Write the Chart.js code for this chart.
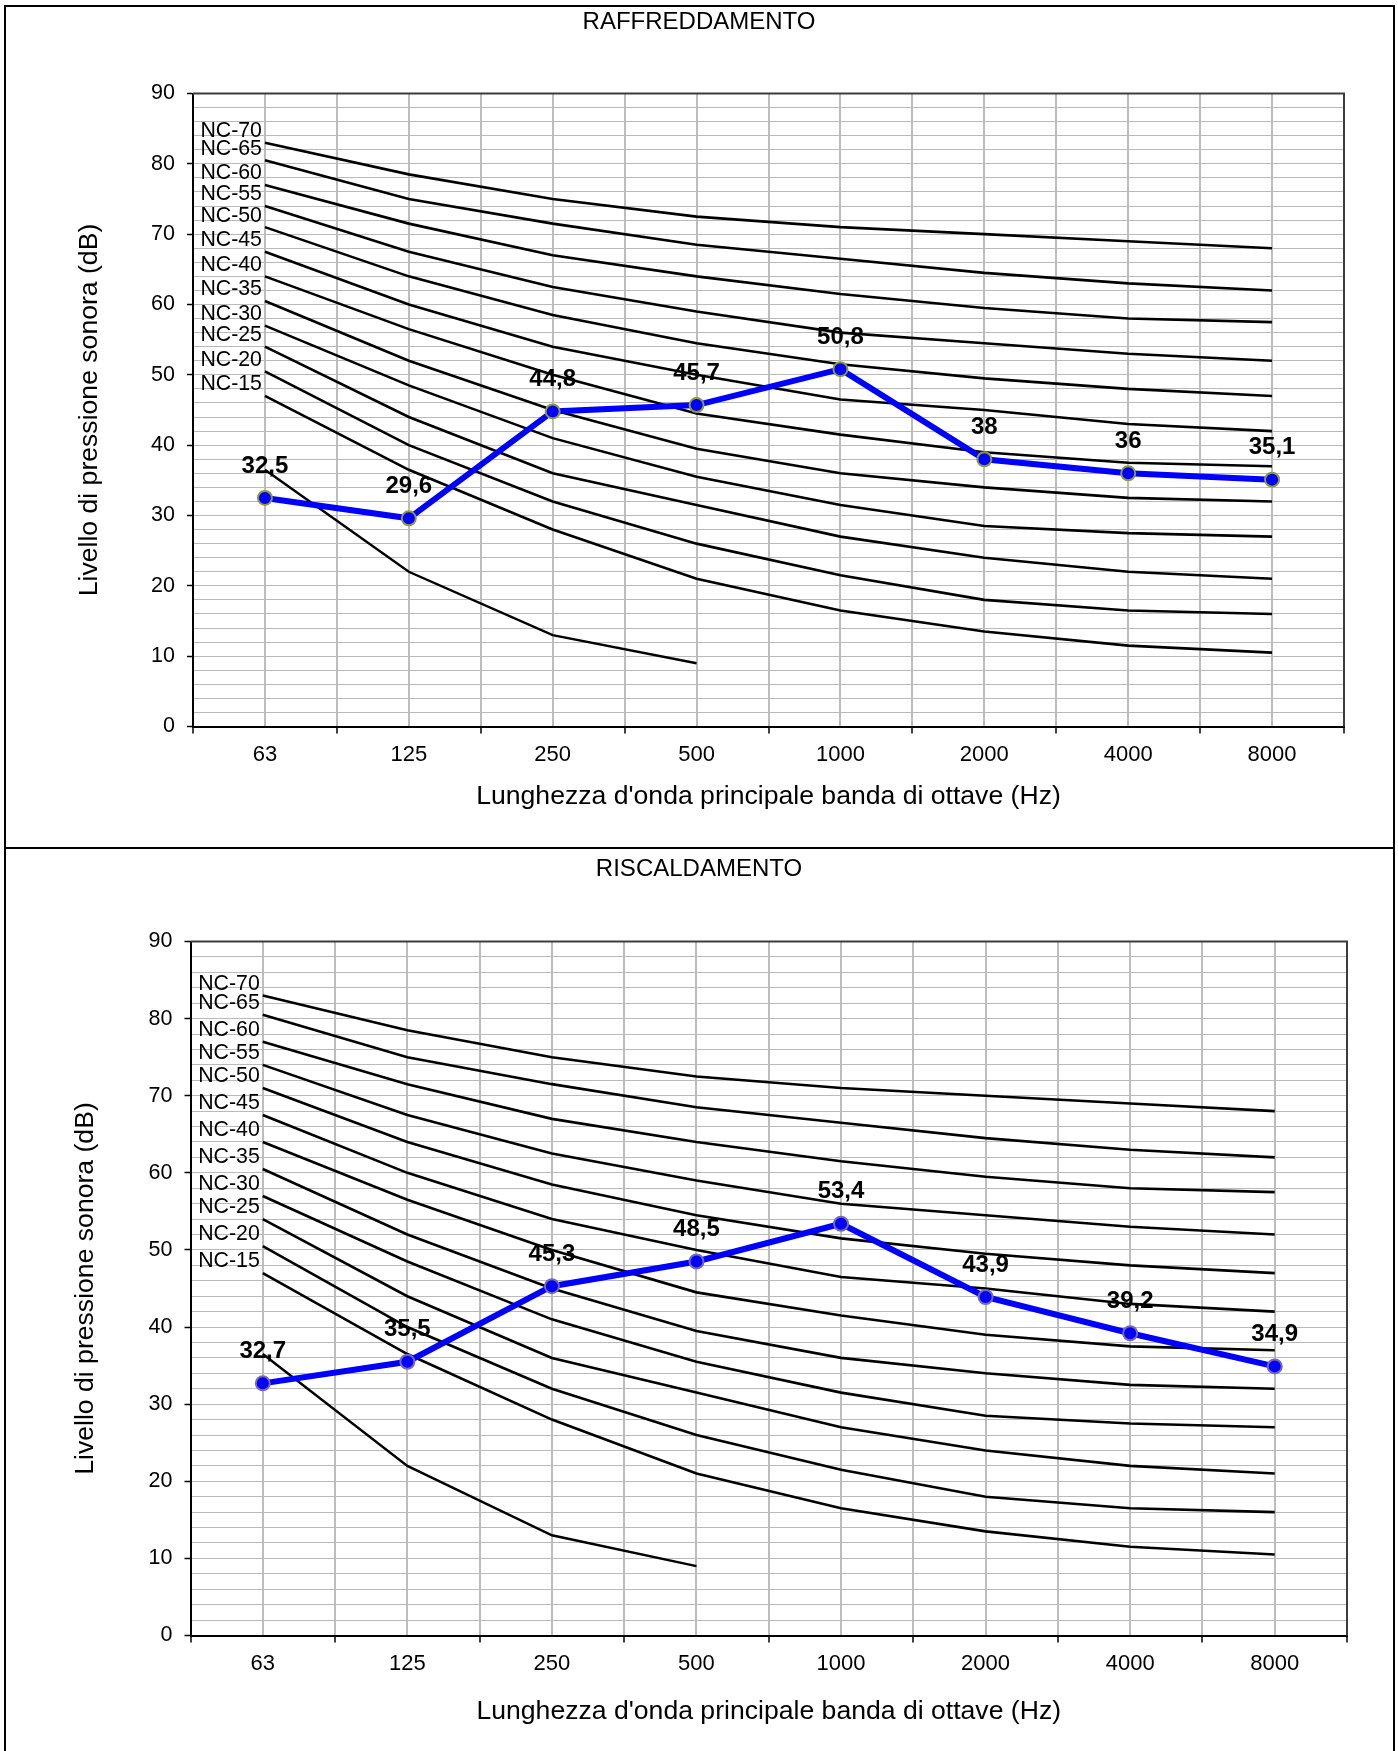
<!DOCTYPE html>
<html>
<head>
<meta charset="utf-8">
<script src="https://cdn.jsdelivr.net/npm/chart.js@4.4.1/dist/chart.umd.min.js"></script>
<style>
html, body { margin: 0; padding: 0; background: #fff; }
body { width: 1398px; height: 1751px; position: relative; overflow: hidden; }
.frame { position: absolute; border: 2px solid #000; box-sizing: border-box; }
canvas { position: absolute; left: 0; }
</style>
</head>
<body>
<div class="frame" style="left:4px;top:5px;width:1391px;height:844px"></div>
<div class="frame" style="left:4px;top:847px;width:1391px;height:930px"></div>
<canvas id="c1" width="1398" height="848" style="top:0px"></canvas>
<canvas id="c2" width="1398" height="903" style="top:848px"></canvas>
<script>
const FONT = '"Liberation Sans", Arial, Helvetica, sans-serif';

// ---- data ----
const categories = ['63', '125', '250', '500', '1000', '2000', '4000', '8000'];
const yTickLabels = [0, 10, 20, 30, 40, 50, 60, 70, 80, 90];

const ncNames = ['NC-70', 'NC-65', 'NC-60', 'NC-55', 'NC-50', 'NC-45',
                 'NC-40', 'NC-35', 'NC-30', 'NC-25', 'NC-20', 'NC-15'];
const nc70 = [83, 78.5, 75, 72.5, 71, 70, 69, 68];
const nc65 = [80.5, 75, 71.5, 68.5, 66.5, 64.5, 63, 62];
const nc60 = [77, 71.5, 67, 64, 61.5, 59.5, 58, 57.5];
const nc55 = [74, 67.5, 62.5, 59, 56, 54.5, 53, 52];
const nc50 = [71, 64, 58.5, 54.5, 51.5, 49.5, 48, 47];
const nc45 = [67.5, 60, 54, 50, 46.5, 45, 43, 42];
const nc40 = [64, 56.5, 50, 44.5, 41.5, 39, 37.5, 37];
const nc35 = [60.5, 52, 45, 39.5, 36, 34, 32.5, 32];
const nc30 = [57, 48.5, 41, 35.5, 31.5, 28.5, 27.5, 27];
const nc25 = [54, 44, 36, 31.5, 27, 24, 22, 21];
const nc20 = [50.5, 40, 32, 26, 21.5, 18, 16.5, 16];
const nc15 = [47, 36.5, 28, 21, 16.5, 13.5, 11.5, 10.5];
const ncExtra = [36.5, 22, 13, 9, null, null, null, null];

const raffreddamento = [32.5, 29.6, 44.8, 45.7, 50.8, 38, 36, 35.1];
const riscaldamento = [32.7, 35.5, 45.3, 48.5, 53.4, 43.9, 39.2, 34.9];

const ncSeries = [nc70, nc65, nc60, nc55, nc50, nc45, nc40, nc35, nc30, nc25, nc20, nc15];

function toPoints(arr) {
  const pts = [];
  arr.forEach((v, i) => { if (v !== null) pts.push({ x: i, y: v }); });
  return pts;
}
function fmt(v) { return String(v).replace('.', ','); }

const decoPlugin = {
  id: 'deco',
  beforeDatasetsDraw(chart) {
    const { left, right, top, bottom } = chart.chartArea;
    const ctx = chart.ctx;
    ctx.save();
    ctx.strokeStyle = '#3c3c3c';
    ctx.lineWidth = 2;
    ctx.beginPath();
    ctx.moveTo(left, top);
    ctx.lineTo(right, top);
    ctx.lineTo(right, bottom);
    ctx.stroke();
    ctx.restore();
  },
  afterDatasetsDraw(chart) {
    const ctx = chart.ctx;
    ctx.save();
    ctx.fillStyle = '#000';
    chart.data.datasets.forEach((ds, i) => {
      const meta = chart.getDatasetMeta(i);
      if (ds.ncName) {
        const p = meta.data[0];
        ctx.font = '21.3px ' + FONT;
        ctx.textAlign = 'right';
        ctx.textBaseline = 'middle';
        ctx.fillText(ds.ncName, p.x - 3, p.y - 11.5);
      }
      if (ds.isMain) {
        ctx.font = 'bold 24px ' + FONT;
        ctx.textAlign = 'center';
        ctx.textBaseline = 'middle';
        meta.data.forEach((p, j) => {
          ctx.fillText(fmt(ds.data[j].y), p.x, p.y - 32);
        });
      }
    });
    ctx.restore();
  }
};

function makeChart(canvasId, g) {
  const datasets = [];
  datasets.push({
    label: g.title, isMain: true, data: toPoints(g.series),
    borderColor: '#0000ff', borderWidth: 6, tension: 0,
    pointRadius: 7, pointHoverRadius: 7, pointBackgroundColor: '#0000ff',
    pointBorderColor: g.pointBorder, pointBorderWidth: 2,
    order: 0, xAxisID: 'x', yAxisID: 'y'
  });
  ncSeries.forEach((arr, k) => {
    datasets.push({
      label: ncNames[k], ncName: ncNames[k], data: toPoints(arr),
      borderColor: '#000', borderWidth: 2.6, tension: 0, pointRadius: 0,
      order: 1, xAxisID: 'x', yAxisID: 'y'
    });
  });
  datasets.push({
    label: 'extra', data: toPoints(ncExtra),
    borderColor: '#000', borderWidth: 2.4, tension: 0, pointRadius: 0,
    order: 1, xAxisID: 'x', yAxisID: 'y'
  });

  new Chart(document.getElementById(canvasId), {
    type: 'line',
    data: { datasets },
    plugins: [decoPlugin],
    options: {
      responsive: false, animation: false, devicePixelRatio: 1,
      layout: { padding: 0 },
      plugins: {
        legend: { display: false },
        tooltip: { enabled: false },
        title: {
          display: true, text: g.title, color: '#000',
          font: { family: FONT, size: 24, weight: 'normal', lineHeight: 1.2 },
          padding: { top: g.titleTop, bottom: g.titleBottom }
        }
      },
      scales: {
        x: {
          type: 'linear', min: -0.5, max: 7.5,
          afterFit(s) { s.height = g.xAxisH; },
          grid: {
            color: '#bdbdbd', lineWidth: 2, tickLength: 7, tickWidth: 1.5, tickBorderDash: [],
            tickColor: (c) => (c.tick && Number.isInteger(c.tick.value)) ? 'rgba(0,0,0,0)' : '#000'
          },
          border: { color: '#000', width: 2 },
          ticks: {
            stepSize: 0.5, autoSkip: false, maxRotation: 0, minRotation: 0, padding: 8,
            color: '#000', font: { family: FONT, size: 22 },
            callback: (v) => Number.isInteger(v) ? categories[v] : ''
          },
          title: {
            display: true, text: "Lunghezza d'onda principale banda di ottave (Hz)", color: '#000',
            font: { family: FONT, size: 26.6, lineHeight: 1.2 },
            padding: { top: 0, bottom: g.xTitleBottom }
          }
        },
        y: {
          type: 'linear', position: 'left', min: 0, max: 90,
          afterFit(s) { s.width = g.yAxisW; },
          grid: {
            color: (c) => (c.tick && c.tick.value === 0) ? 'rgba(0,0,0,0)' : '#bababa',
            lineWidth: 1, borderDash: [2, 2], dash: [2, 2],
            tickLength: 6, tickWidth: 1.5, tickBorderDash: [],
            tickColor: (c) => (c.tick && yTickLabels.includes(c.tick.value)) ? '#000' : 'rgba(0,0,0,0)'
          },
          border: { color: '#000', width: 2 },
          ticks: {
            stepSize: 2, autoSkip: false, padding: 12,
            color: '#000', font: { family: FONT, size: 21.5 },
            callback: (v) => yTickLabels.includes(v) ? String(v) : ''
          },
          title: {
            display: true, text: 'Livello di pressione sonora (dB)', color: '#000',
            font: { family: FONT, size: 26.6, lineHeight: 1.2 },
            padding: { top: g.yTitleTop, bottom: 0 }
          }
        },
        yr: {
          type: 'linear', position: 'right', display: true,
          grid: { display: false }, border: { display: false }, ticks: { display: false },
          afterFit(s) { s.width = g.rightW; }
        }
      }
    }
  });
}

makeChart('c1', {
  title: 'RAFFREDDAMENTO', series: raffreddamento, pointBorder: '#8c9a3c',
  titleTop: 8.1, titleBottom: 56.6, yAxisW: 193, rightW: 54,
  xAxisH: 121.5, xTitleBottom: 35.3, yTitleTop: 74
});
makeChart('c2', {
  title: 'RISCALDAMENTO', series: riscaldamento, pointBorder: '#7a68b0',
  titleTop: 6.8, titleBottom: 57.9, yAxisW: 190.5, rightW: 51,
  xAxisH: 115.5, xTitleBottom: 23.5, yTitleTop: 70
});
</script>
</body>
</html>
